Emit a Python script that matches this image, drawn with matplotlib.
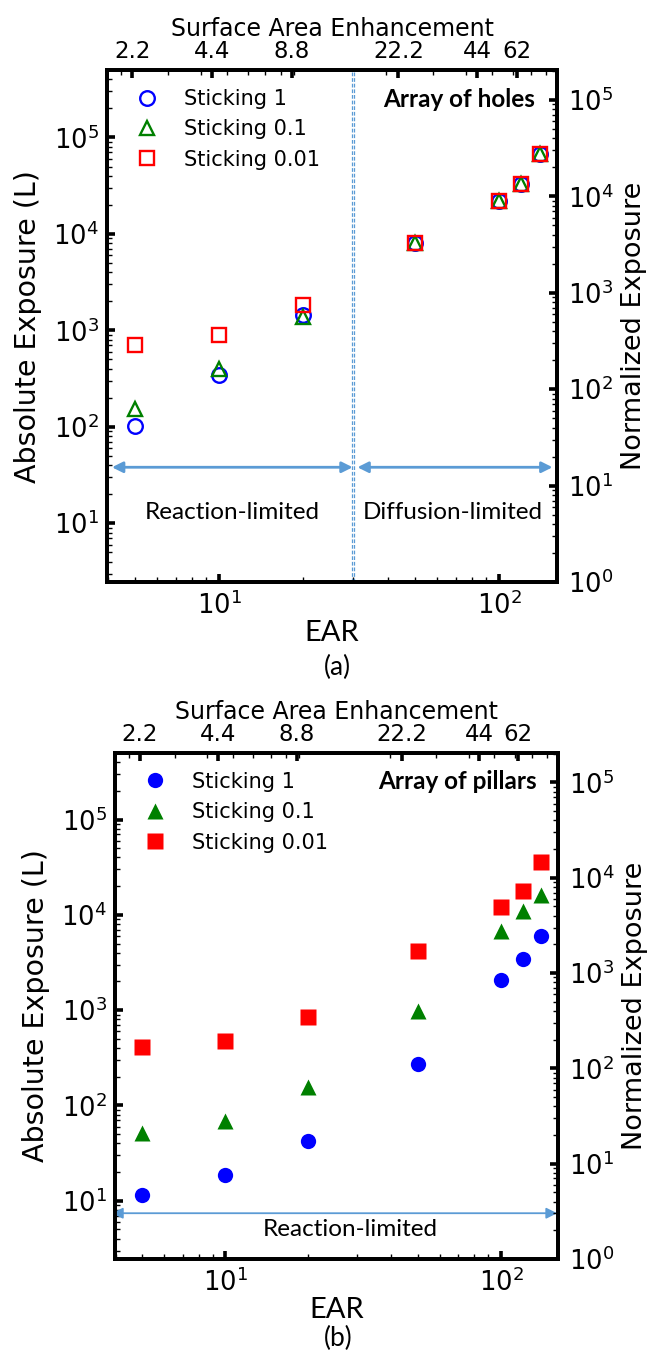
import matplotlib
matplotlib.use("Agg")
import matplotlib.pyplot as plt
from matplotlib.ticker import LogLocator, NullFormatter, FixedLocator, FixedFormatter

# --- data -------------------------------------------------------------
ear = [5, 10, 20, 50, 100, 120, 140]

holes_s1 = [103, 340, 1450, 8100, 22000, 33000, 68000]
holes_s01 = [152, 395, 1380, 8100, 22000, 33000, 68000]
holes_s001 = [705, 900, 1820, 8100, 22000, 33000, 68000]

pillars_s1 = [11.4, 18.6, 42, 272, 2070, 3420, 6000]
pillars_s01 = [51, 69, 156, 980, 6800, 10900, 16000]
pillars_s001 = [414, 480, 840, 4190, 12200, 17800, 36000]

sae_ticks = [2.2, 4.4, 8.8, 22.2, 44, 62]
sae_labels = ["2.2", "4.4", "8.8", "22.2", "44", "62"]
series_labels = ["Sticking 1", "Sticking 0.1", "Sticking 0.01"]

# normalized exposure = absolute exposure / NORM
NORM = 2.45
YLIM = (2.45, 5e5)
XLIM = (3.98, 161)
SAE_LIM = (1.77, 88)
TRANSITION_EAR = 30
ARROW_C = "#5B9BD5"

plt.rcParams["font.family"] = ["DejaVu Sans"]


def style_axis(a):
    for s in a.spines.values():
        s.set_linewidth(2.6)
    a.tick_params(which="major", direction="in", length=6, width=2.6, labelsize=18.5)
    a.tick_params(which="minor", direction="in", length=3.5, width=1)


def panel(ax, series, filled, tag):
    markers = ["o", "^", "s"]
    colors = ["b", "g", "r"]
    sizes = [11, 11.5, 11] if filled else [10.5, 10.5, 10.5]
    for vals, m, c, ms, lab in zip(series, markers, colors, sizes, series_labels):
        if filled:
            ax.plot(ear, vals, ls="none", marker=m, color=c, ms=ms, mec="none", label=lab)
        else:
            ax.plot(ear, vals, ls="none", marker=m, mfc="none", mec=c, ms=ms, mew=1.7, label=lab)

    ax.set_xscale("log")
    ax.set_yscale("log")
    ax.set_xlim(*XLIM)
    ax.set_ylim(*YLIM)
    style_axis(ax)
    ax.tick_params(axis="x", which="both", top=False, pad=7)
    ax.tick_params(axis="y", which="both", right=False, pad=6)
    ax.set_xlabel("EAR", family="Lato", fontsize=21, labelpad=0)
    ax.set_ylabel("Absolute Exposure (L)", fontsize=20.5, labelpad=8)

    ax.legend(loc="upper left", frameon=False, fontsize=15, numpoints=1,
              handletextpad=0.8, labelspacing=0.5)

    ax.text(0.952, 0.943, tag, transform=ax.transAxes, ha="right", va="center",
            family="Lato", fontweight="bold", fontsize=17.5)

    # right axis
    axr = ax.twinx()
    axr.set_yscale("log")
    axr.set_ylim(YLIM[0] / NORM, YLIM[1] / NORM)
    style_axis(axr)
    axr.tick_params(axis="y", which="both", pad=8)
    axr.set_ylabel("Normalized Exposure", fontsize=19.5, labelpad=5)

    # top axis
    axt = ax.twiny()
    axt.set_xscale("log")
    axt.set_xlim(*SAE_LIM)
    style_axis(axt)
    axt.xaxis.set_major_locator(FixedLocator(sae_ticks))
    axt.xaxis.set_major_formatter(FixedFormatter(sae_labels))
    axt.xaxis.set_minor_locator(LogLocator(subs=range(2, 10)))
    axt.xaxis.set_minor_formatter(NullFormatter())
    axt.tick_params(axis="x", which="both", pad=5, labelsize=16.5)
    axt.set_xlabel("Surface Area Enhancement", fontsize=17, labelpad=3)
    return ax


fig = plt.figure(figsize=(6.51, 13.53), dpi=100)
ax1 = fig.add_axes([0.1644, 0.5698, 0.6912, 0.3784])
ax2 = fig.add_axes([0.1767, 0.0695, 0.6805, 0.374])

panel(ax1, [holes_s1, holes_s01, holes_s001], False, "Array of holes")
panel(ax2, [pillars_s1, pillars_s01, pillars_s001], True, "Array of pillars")

# regime boundary (thin double dashed line), panel (a)
for f in (0.992, 1.008):
    ax1.axvline(TRANSITION_EAR * f, color=ARROW_C, ls="--", lw=0.9, dashes=(3, 1.5))
arr = dict(arrowstyle="<|-|>", color=ARROW_C, lw=2, shrinkA=0, shrinkB=0, mutation_scale=16)
ax1.annotate("", xy=(TRANSITION_EAR, 38), xytext=(0.011, 38),
             xycoords="data", textcoords=("axes fraction", "data"), arrowprops=arr)
ax1.annotate("", xy=(0.99, 38), xytext=(31.2, 38),
             xycoords=("axes fraction", "data"), textcoords="data", arrowprops=arr)
ax1.text(0.278, 0.135, "Reaction-limited", transform=ax1.transAxes, ha="center",
         va="center", family="Lato", fontsize=17.5)
ax1.text(0.769, 0.135, "Diffusion-limited", transform=ax1.transAxes, ha="center",
         va="center", family="Lato", fontsize=17.5)

# regime arrow, panel (b)
arr_b = dict(arrowstyle="<|-|>", color=ARROW_C, lw=1.3, shrinkA=0, shrinkB=0, mutation_scale=16)
ax2.annotate("", xy=(0.998, 7.4), xytext=(-0.007, 7.4),
             xycoords=("axes fraction", "data"), arrowprops=arr_b, annotation_clip=False)
ax2.text(0.53, 0.059, "Reaction-limited", transform=ax2.transAxes, ha="center",
         va="center", family="Lato", fontsize=17.5)

fig.text(0.518, 0.507, "(a)", ha="center", va="center", family="Lato", fontsize=19)
fig.text(0.519, 0.011, "(b)", ha="center", va="center", family="Lato", fontsize=19)

fig.savefig("out.png", dpi=100)
